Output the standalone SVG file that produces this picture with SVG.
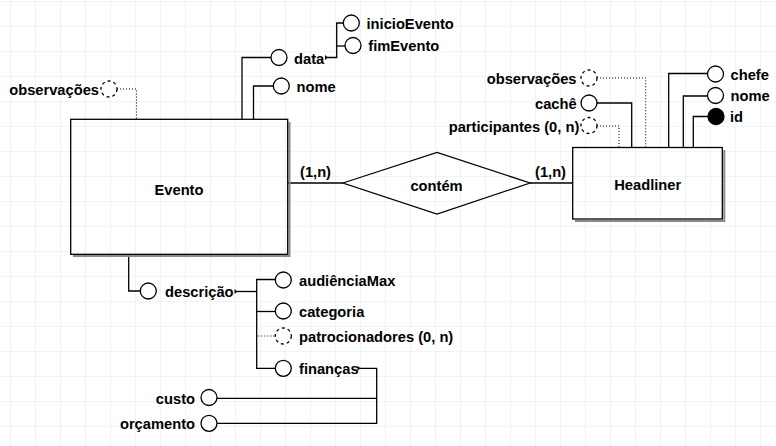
<svg xmlns="http://www.w3.org/2000/svg" width="776" height="446" viewBox="0 0 776 446">
<defs>
<pattern id="grid" x="10" y="1" width="25" height="25" patternUnits="userSpaceOnUse">
<path d="M0,0 H25 M0,0 V25" fill="none" stroke="#e3ebf3" stroke-width="1.2"/>
</pattern>
<style>
text{font-family:"Liberation Sans",Arial,sans-serif;font-weight:bold;font-size:14.7px;fill:#000}
.end{text-anchor:end}
.mid{text-anchor:middle}
.ln{fill:none;stroke:#000;stroke-width:1.3}
.dot{fill:none;stroke:#000;stroke-width:1;stroke-dasharray:1 2}
.at{fill:#fff;stroke:#000;stroke-width:1.3}
.opt{fill:#fff;stroke:#000;stroke-width:1.3;stroke-dasharray:3 3}
.key{fill:#000;stroke:#000;stroke-width:1.3}
.ent{fill:none;stroke:#000;stroke-width:1.3}
.sh{fill:none;stroke:#8a8a8a;stroke-width:2}
.mk{fill:#000}
</style>
</defs>
<rect width="776" height="446" fill="#fff"/>
<rect width="776" height="446" fill="url(#grid)"/>

<g id="connectors">
<path class="ln" d="M288,183 H343"/>
<path class="ln" d="M530,183 H573"/>
<path class="ln" d="M271,57.5 H242 V119"/>
<path class="ln" d="M273,86 H253.5 V119"/>
<path class="dot" d="M117,89 H136.5 V119"/>
<path class="ln" d="M327,57.5 H336.7 V23 H343"/>
<path class="ln" d="M336.7,46 H345"/>
<path class="dot" d="M597,78 H645.7 V147.5"/>
<path class="ln" d="M597,103 H631.7 V147.5"/>
<path class="dot" d="M597,126 H619 V147.5"/>
<path class="ln" d="M707.5,73.5 H668.7 V147.5"/>
<path class="ln" d="M707.5,96 H683.3 V147.5"/>
<path class="ln" d="M708,116.5 H693.3 V147.5"/>
<path class="ln" d="M128.7,254.5 V291 H140"/>
<path class="ln" d="M237,291.5 H256.7"/>
<path class="ln" d="M275.5,279.5 H256.7 V368.3 H275.5"/>
<path class="ln" d="M256.7,311.5 H275.5"/>
<path class="dot" d="M258.3,336 H275.5"/>
<path class="ln" d="M360,368.3 H376.7 V423.3 H217"/>
<path class="ln" d="M217,398.3 H376.7"/>
<path class="mk" d="M325,55 L328,57.5 L325,60 Z"/>
<path class="mk" d="M234.5,289 L237.5,291.5 L234.5,294 Z"/>
<path class="mk" d="M357.5,365.8 L360.5,368.3 L357.5,370.8 Z"/>
</g>

<g id="evento">
<path class="sh" d="M289.5,122 V256 H73"/>
<rect class="ent" x="70.7" y="119.3" width="217" height="135"/>
<text class="mid" x="179" y="195">Evento</text>
</g>

<g id="contem">
<polygon class="ent" points="343,183 437,152.5 530,183 437,214"/>
<text class="mid" x="436.5" y="190.5">contém</text>
<text x="300" y="177">(1,n)</text>
<text x="535" y="176.5">(1,n)</text>
</g>

<g id="headliner">
<path class="sh" d="M724.3,150 V221 H575"/>
<rect class="ent" x="572.7" y="147.5" width="149.6" height="71.5"/>
<text class="mid" x="647.7" y="190">Headliner</text>
</g>

<g id="attr-observacoes-evento">
<circle class="opt" cx="109" cy="89" r="8"/>
<text class="end" x="99" y="95">observações</text>
</g>
<g id="attr-data">
<circle class="at" cx="279" cy="57.5" r="8"/>
<text x="294" y="63.5">data</text>
</g>
<g id="attr-nome-evento">
<circle class="at" cx="281.3" cy="86" r="8"/>
<text x="296.5" y="91.5">nome</text>
</g>
<g id="attr-inicioEvento">
<circle class="at" cx="351.3" cy="23" r="8"/>
<text x="366.5" y="28.5">inicioEvento</text>
</g>
<g id="attr-fimEvento">
<circle class="at" cx="353" cy="45.5" r="8"/>
<text x="368.3" y="51">fimEvento</text>
</g>

<g id="attr-observacoes-headliner">
<circle class="opt" cx="589" cy="78" r="8"/>
<text class="end" x="576.5" y="84">observações</text>
</g>
<g id="attr-cache">
<circle class="at" cx="589" cy="103" r="8"/>
<text class="end" x="576.7" y="109">cachê</text>
</g>
<g id="attr-participantes">
<circle class="opt" cx="589" cy="125.5" r="8"/>
<text class="end" x="579.3" y="131.5">participantes (0, n)</text>
</g>
<g id="attr-chefe">
<circle class="at" cx="715.5" cy="74" r="8"/>
<text x="730.5" y="79.5">chefe</text>
</g>
<g id="attr-nome-headliner">
<circle class="at" cx="715.5" cy="95.5" r="8"/>
<text x="730.5" y="101">nome</text>
</g>
<g id="attr-id">
<circle class="key" cx="716" cy="116.5" r="8"/>
<text x="730" y="122">id</text>
</g>

<g id="attr-descricao">
<circle class="at" cx="148.3" cy="291" r="8"/>
<text x="165" y="297">descrição</text>
</g>
<g id="attr-audienciaMax">
<circle class="at" cx="283.3" cy="280" r="8"/>
<text x="299" y="285.5">audiênciaMax</text>
</g>
<g id="attr-categoria">
<circle class="at" cx="283.3" cy="311" r="8"/>
<text x="299" y="316.5">categoria</text>
</g>
<g id="attr-patrocinadores">
<circle class="opt" cx="283.3" cy="336" r="8"/>
<text x="299" y="342">patrocionadores (0, n)</text>
</g>
<g id="attr-financas">
<circle class="at" cx="283.3" cy="368.3" r="8"/>
<text x="299" y="374">finanças</text>
</g>
<g id="attr-custo">
<circle class="at" cx="209" cy="397.5" r="8"/>
<text class="end" x="195" y="403.5">custo</text>
</g>
<g id="attr-orcamento">
<circle class="at" cx="209" cy="423.3" r="8"/>
<text class="end" x="195" y="429">orçamento</text>
</g>
</svg>
